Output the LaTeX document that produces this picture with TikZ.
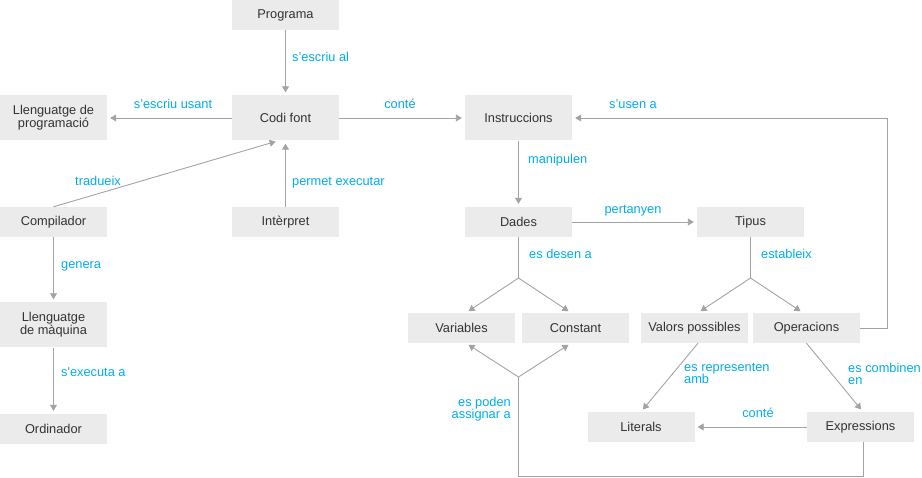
\documentclass[tikz,border=0pt]{standalone}
\usepackage{fontspec}
\setmainfont{Liberation Sans}
\usepackage{xcolor}
\usetikzlibrary{arrows.meta, positioning, calc}
\definecolor{Box}{RGB}{235, 235, 235}
\definecolor{Ink}{RGB}{51, 51, 51}
\definecolor{Link}{RGB}{163, 163, 163}
\definecolor{Label}{RGB}{0, 172, 236}

\tikzset{
    concept/.style={fill=Box, text=Ink, minimum width=107pt, minimum height=30pt,
        inner sep=0pt, align=center, font=\fontsize{12.8}{13}\selectfont},
    tall/.style={concept, minimum height=45pt},
    conn/.style={draw=Link, line width=0.9pt, -{Triangle[width=7pt, length=6pt]}, shorten >=3pt},
    plain/.style={draw=Link, line width=0.9pt},
    lbl/.style={text=Label, inner sep=0pt, font=\fontsize{12.8}{12.5}\selectfont}
}

\begin{document}
\begin{tikzpicture}[x=1pt, y=-1pt]
            \useasboundingbox (0,0) rectangle (922,478);

            % Concept boxes
            \node[concept] (prog) at (285.5, 15) {Programa};
            \node[tall] (codi) at (285.5, 118) {Codi font};
            \node[tall] (llprog) at (53.5, 118) {Llenguatge de\\programació};
            \node[tall] (instr) at (518.5, 118) {Instruccions};
            \node[concept] (comp) at (53.5, 222) {Compilador};
            \node[concept] (interp) at (285.5, 222) {Intèrpret};
            \node[concept] (dades) at (518.5, 222) {Dades};
            \node[concept] (tipus) at (750.5, 222) {Tipus};
            \node[tall] (llmaq) at (53.5, 325) {Llenguatge\\de màquina};
            \node[concept] (ord) at (53.5, 429) {Ordinador};
            \node[concept] (var) at (461.5, 328) {Variables};
            \node[concept] (const) at (575.5, 328) {Constant};
            \node[concept] (valors) at (694.5, 328) {Valors possibles};
            \node[concept] (ops) at (806.5, 328) {Operacions};
            \node[concept] (lit) at (641, 427) {Literals};
            \node[concept] (expr) at (860.5, 427) {Expressions};

            % Split points
            \coordinate (dsplit) at (518.5, 278);
            \coordinate (tsplit) at (750.5, 278);
            \coordinate (asplit) at (518.5, 377);

            % Connectors
            \draw[conn] (prog) -- (codi);
            \draw[conn] (codi) -- (llprog);
            \draw[conn] (codi) -- (instr);
            \draw[conn] (comp.north) -- ([xshift=-7pt]codi.south);
            \draw[conn] (interp) -- (codi);
            \draw[conn] (comp) -- (llmaq);
            \draw[conn] (llmaq) -- (ord);
            \draw[conn] (instr) -- (dades);
            \draw[conn] (dades) -- (tipus);

            \draw[plain] (dades) -- (dsplit);
            \draw[conn] (dsplit) -- ([xshift=4.5pt]var.north);
            \draw[conn] (dsplit) -- ([xshift=-4.5pt]const.north);
            \draw[plain] (tipus) -- (tsplit);
            \draw[conn] (tsplit) -- ([xshift=3.5pt]valors.north);
            \draw[conn] (tsplit) -- ([xshift=-3.5pt]ops.north);

            \draw[conn] (ops.east) -- ++(27,0) |- (instr.east);
            \draw[conn] ([xshift=3.5pt]valors.south) -- (lit.north);
            \draw[conn] (ops.south) -- ([xshift=2.5pt]expr.north);
            \draw[conn] (expr) -- (lit);

            \draw[plain] ([xshift=2.5pt]expr.south) -- ++(0,34) -| (asplit);
            \draw[conn] (asplit) -- ([xshift=4.5pt]var.south);
            \draw[conn] (asplit) -- ([xshift=-4.5pt]const.south);

            % Labels
            \node[lbl, anchor=base west] (l1) at (292, 62) {s’escriu al};
            \node[lbl, anchor=base] (l2) at (173, 109) {s’escriu usant};
            \node[lbl, anchor=base] (l3) at (400, 109) {conté};
            \node[lbl, anchor=base] (l4) at (98, 186) {tradueix};
            \node[lbl, anchor=base west] (l5) at (292, 186) {permet executar};
            \node[lbl, anchor=base] (l6) at (633, 109) {s’usen a};
            \node[lbl, anchor=base west] (l7) at (528, 164) {manipulen};
            \node[lbl, anchor=base] (l8) at (633, 214) {pertanyen};
            \node[lbl, anchor=base west] (l9) at (61, 269) {genera};
            \node[lbl, anchor=base west] (l10) at (61, 377) {s\textquotesingle executa a};
            \node[lbl, anchor=base west] (l11) at (529, 259) {es desen a};
            \node[lbl, anchor=base west] (l12) at (761, 259) {estableix};
            \node[lbl, anchor=north west, align=left] (l13) at (684, 363) {es representen\\amb};
            \node[lbl, anchor=north west, align=left] (l14) at (848, 363) {es combinen\\en};
            \node[lbl, anchor=north east, align=right] (l15) at (511, 397) {es poden\\assignar a};
            \node[lbl, anchor=base] (l16) at (758, 418) {conté};
        \end{tikzpicture}
\end{document}
